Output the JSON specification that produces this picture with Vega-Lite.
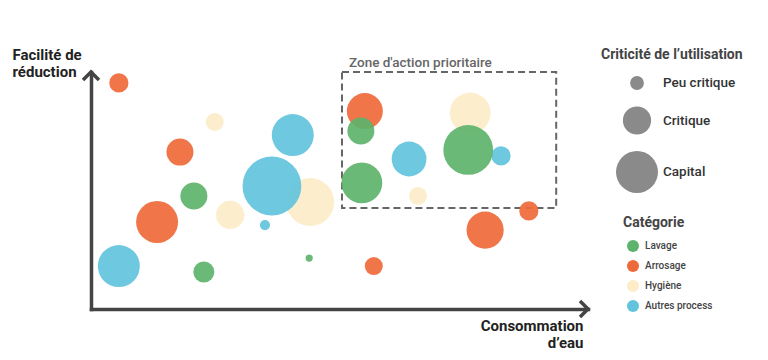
{
  "$schema": "https://vega.github.io/schema/vega-lite/v6.json",
  "autosize": {"type": "none"},
  "width": 497,
  "height": 237,
  "padding": {"left": 91, "top": 72, "right": 180, "bottom": 51},
  "background": "white",
  "config": {
    "view": {"stroke": null},
    "font": "Roboto",
    "axis": {"labels": false, "ticks": false, "grid": false, "domainColor": "#444444", "domainWidth": 3.5, "domainCap": "square"}
  },
  "datasets": {
    "bulles": [
      {"categorie": "Arrosage", "consommation": 5.6, "facilite": 95.4, "criticite": 3.2},
      {"categorie": "Arrosage", "consommation": 17.9, "facilite": 66.2, "criticite": 4.5},
      {"categorie": "Arrosage", "consommation": 13.3, "facilite": 36.7, "criticite": 7.0},
      {"categorie": "Arrosage", "consommation": 56.9, "facilite": 18.1, "criticite": 3.0},
      {"categorie": "Arrosage", "consommation": 79.3, "facilite": 33.3, "criticite": 6.2},
      {"categorie": "Arrosage", "consommation": 88.1, "facilite": 41.4, "criticite": 3.2},
      {"categorie": "Arrosage", "consommation": 55.1, "facilite": 83.5, "criticite": 6.0},
      {"categorie": "Hygiène", "consommation": 24.9, "facilite": 78.9, "criticite": 3.0},
      {"categorie": "Hygiène", "consommation": 44.1, "facilite": 45.1, "criticite": 8.0},
      {"categorie": "Hygiène", "consommation": 28.0, "facilite": 39.7, "criticite": 4.7},
      {"categorie": "Hygiène", "consommation": 65.8, "facilite": 47.7, "criticite": 3.0},
      {"categorie": "Hygiène", "consommation": 76.3, "facilite": 82.7, "criticite": 6.8},
      {"categorie": "Autres process", "consommation": 40.6, "facilite": 73.4, "criticite": 7.0},
      {"categorie": "Autres process", "consommation": 36.4, "facilite": 51.9, "criticite": 9.8},
      {"categorie": "Autres process", "consommation": 35.0, "facilite": 35.4, "criticite": 1.7},
      {"categorie": "Autres process", "consommation": 5.6, "facilite": 18.1, "criticite": 7.0},
      {"categorie": "Autres process", "consommation": 64.0, "facilite": 63.3, "criticite": 5.8},
      {"categorie": "Autres process", "consommation": 82.5, "facilite": 64.6, "criticite": 3.2},
      {"categorie": "Lavage", "consommation": 20.7, "facilite": 47.7, "criticite": 4.5},
      {"categorie": "Lavage", "consommation": 22.7, "facilite": 15.6, "criticite": 3.5},
      {"categorie": "Lavage", "consommation": 43.9, "facilite": 21.5, "criticite": 1.2},
      {"categorie": "Lavage", "consommation": 54.3, "facilite": 75.1, "criticite": 4.5},
      {"categorie": "Lavage", "consommation": 54.5, "facilite": 53.2, "criticite": 6.8},
      {"categorie": "Lavage", "consommation": 75.9, "facilite": 67.1, "criticite": 8.3}
    ],
    "zone": [
      {"label": "Zone d'action prioritaire", "x1": 50.5, "x2": 93.6, "y1": 42.6, "y2": 100}
    ],
    "fleches": [
      {"sens": "haut", "consommation": 0, "facilite": 100},
      {"sens": "droite", "consommation": 100, "facilite": 0}
    ]
  },
  "layer": [
    {
      "data": {"name": "zone"},
      "mark": {"type": "rect", "fill": null, "stroke": "#666666", "strokeWidth": 2, "strokeDash": [7, 4]},
      "encoding": {
        "x": {"field": "x1", "type": "quantitative", "scale": {"domain": [0, 100]}, "axis": {"title": ["Consommation", "d’eau"], "titleAngle": 0, "titleAlign": "right", "titleBaseline": "top", "titleX": 492, "titleY": 9, "titleFontSize": 15, "titleFontWeight": "bold", "titleColor": "#222222", "titleLineHeight": 17}},
        "x2": {"field": "x2"},
        "y": {"field": "y1", "type": "quantitative", "scale": {"domain": [0, 100]}, "axis": {"title": ["Facilité de", "réduction"], "titleAngle": 0, "titleAlign": "left", "titleBaseline": "top", "titleX": -79, "titleY": -25, "titleFontSize": 15, "titleFontWeight": "bold", "titleColor": "#222222", "titleLineHeight": 17}},
        "y2": {"field": "y2"}
      }
    },
    {
      "data": {"name": "zone"},
      "mark": {"type": "text", "align": "left", "baseline": "alphabetic", "dx": 7, "dy": -5, "fontSize": 13.5, "fontWeight": 500, "color": "#666666"},
      "encoding": {
        "x": {"field": "x1", "type": "quantitative"},
        "y": {"field": "y2", "type": "quantitative"},
        "text": {"field": "label"}
      }
    },
    {
      "data": {"name": "bulles"},
      "mark": {"type": "circle", "opacity": 0.92},
      "encoding": {
        "x": {"field": "consommation", "type": "quantitative"},
        "y": {"field": "facilite", "type": "quantitative"},
        "color": {
          "field": "categorie", "type": "nominal",
          "scale": {"domain": ["Lavage", "Arrosage", "Hygiène", "Autres process"], "range": ["#5db36b", "#ef6a3a", "#fcecc8", "#62c3dc"]},
          "legend": {"title": "Catégorie", "orient": "none", "legendX": 532, "legendY": 144, "padding": 0, "titleFontSize": 14, "titleFontWeight": "bold", "titleColor": "#444444", "titlePadding": 10, "symbolType": "circle", "symbolSize": 144, "symbolOpacity": 1, "symbolStrokeWidth": 0, "symbolOffset": 4, "labelFontSize": 10, "labelFontWeight": 500, "labelColor": "#444444", "labelOffset": 6, "rowPadding": 8}
        },
        "size": {
          "field": "criticite", "type": "quantitative",
          "scale": {"type": "pow", "exponent": 2, "domain": [0, 10], "range": [0, 3600]},
          "legend": {"title": "Criticité de l’utilisation", "orient": "none", "legendX": 510, "legendY": -24, "padding": 0, "values": [2.3, 4.7, 7.0], "labelExpr": "datum.value < 3 ? 'Peu critique' : datum.value < 5 ? 'Critique' : 'Capital'", "titleFontSize": 14, "titleFontWeight": "bold", "titleColor": "#444444", "titlePadding": 14, "symbolType": "circle", "symbolFillColor": "#8a8a8a", "symbolStrokeWidth": 0, "symbolOpacity": 1, "symbolOffset": 15, "labelFontSize": 13.5, "labelFontWeight": 500, "labelColor": "#333333", "labelOffset": 5, "rowPadding": 16}
        }
      }
    },
    {
      "data": {"name": "fleches"},
      "mark": {"type": "point", "filled": false, "stroke": "#444444", "strokeWidth": 3.5, "strokeJoin": "miter", "opacity": 1, "size": 256},
      "encoding": {
        "x": {"field": "consommation", "type": "quantitative"},
        "y": {"field": "facilite", "type": "quantitative"},
        "shape": {"field": "sens", "type": "nominal", "scale": {"domain": ["haut", "droite"], "range": ["M-1,1L0,0L1,1", "M-1,-1L0,0L-1,1"]}, "legend": null}
      }
    }
  ]
}
